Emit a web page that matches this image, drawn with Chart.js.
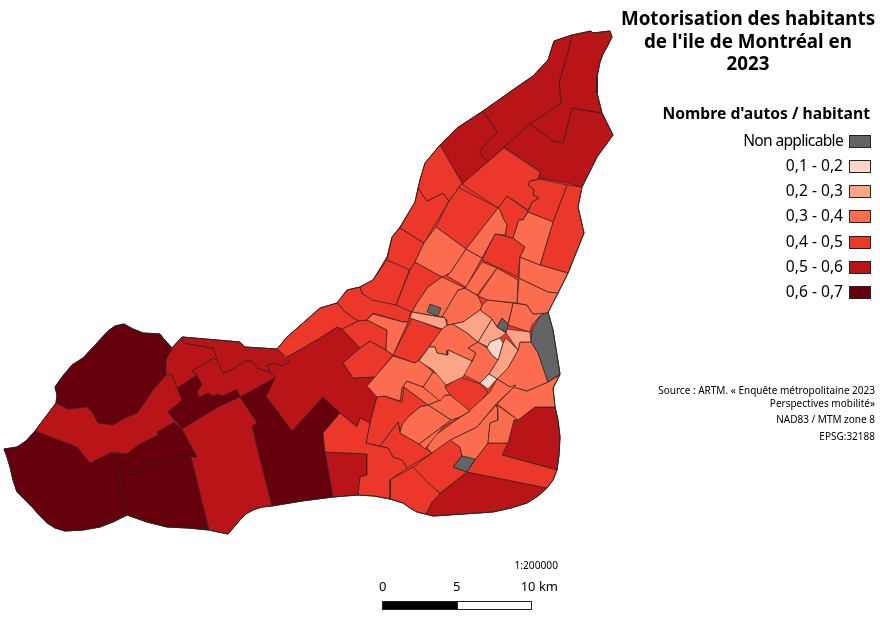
<!DOCTYPE html>
<html lang="fr">
<head>
<meta charset="UTF-8">
<title>Motorisation des habitants de l'ile de Montréal en 2023</title>
<script src="https://cdn.jsdelivr.net/npm/chart.js"></script>
<style>
  html, body { margin: 0; padding: 0; background: #fff; }
  #wrap { position: relative; width: 880px; height: 622px; overflow: hidden; font-family: "Noto Sans", sans-serif; color: #000; }
  canvas { position: absolute; left: 0; top: 0; }
  .t { position: absolute; white-space: nowrap; line-height: 1; }
  #title { left: 610px; width: 276px; top: 7px; text-align: center; font-weight: bold; font-size: 18.8px; line-height: 22.6px; white-space: nowrap; }
  #legendTitle { right: 10px; top: 106px; font-weight: bold; font-size: 15.7px; }
  .sw { position: absolute; left: 849px; width: 20px; height: 11px; border: 1px solid #232323; }
  .lg { right: 37px; font-size: 15.6px; }
  .src { right: 5px; font-size: 10px; }
  #bar0, #bar1 { position: absolute; top: 601px; height: 7px; border: 1px solid #222; }
  #bar0 { left: 382px; width: 74px; background: #000; }
  #bar1 { left: 457px; width: 73px; background: #fff; }
</style>
</head>
<body>
<div id="wrap">
  <canvas id="map" width="880" height="622"></canvas>
  <div class="t" id="title">Motorisation des habitants<br>de l'ile de Montréal en<br>2023</div>
  <div class="t" id="legendTitle">Nombre d'autos / habitant</div>
  <div id="legend"></div>
  <div class="t src" style="top:385px">Source : ARTM. « Enquête métropolitaine 2023</div>
  <div class="t src" style="top:398px">Perspectives mobilité»</div>
  <div class="t src" style="top:414px">NAD83 / MTM zone 8</div>
  <div class="t src" style="top:431px">EPSG:32188</div>
  <div class="t" style="right:322px;top:560px;font-size:10.2px">1:200000</div>
  <div class="t" style="left:379px;top:580px;font-size:13px">0</div>
  <div class="t" style="left:453px;top:580px;font-size:13px">5</div>
  <div class="t" style="right:322px;top:580px;font-size:13px">10 km</div>
  <div id="bar0"></div><div id="bar1"></div>
</div>

<script>
// classes de la légende
const classLabels = ['Non applicable', '0,1 - 0,2', '0,2 - 0,3', '0,3 - 0,4', '0,4 - 0,5', '0,5 - 0,6', '0,6 - 0,7']
const classColors = ['#646464', '#fdd8c8', '#fca486', '#fb6d4e', '#ec382b', '#b91518', '#67000d']

// contour de l'ile
const island = [[554,41],[572,35],[591,31],[593,33],[610,31],[612,37],[607,47],[603,54],[600,62],[597,77],[597,93],[602,113],[613,135],[597,157],[582,187],[578,207],[584,233],[568,273],[558,293],[548,312],[553,330],[560,374],[553,388],[555,407],[558,420],[560,437],[559,455],[557,470],[553,480],[547,488],[538,496],[527,503],[511,508],[493,512],[463,514],[433,516],[417,512],[410,508],[403,503],[390,499],[374,496],[358,495],[345,496],[333,497],[302,501],[272,506],[262,507],[253,510],[246,514],[240,520],[234,527],[228,534],[218,532],[209,530],[188,528],[167,527],[147,522],[127,515],[113,522],[100,527],[83,530],[65,531],[55,528],[47,523],[40,516],[33,508],[24,499],[17,492],[13,480],[10,467],[7,457],[4,449],[11,448],[17,447],[26,441],[35,431],[56,403],[57,395],[55,387],[62,377],[72,365],[83,358],[97,343],[108,331],[115,326],[124,324],[133,329],[143,333],[160,334],[163,338],[172,348],[182,337],[240,342],[245,347],[277,349],[287,337],[303,323],[320,308],[337,303],[347,290],[360,287],[373,280],[387,257],[392,237],[400,227],[415,202],[420,180],[425,163],[440,145],[457,128],[483,111],[517,87],[533,76],[548,60]]

const na = [
  [[430,304],[441,308],[438,316],[427,312]],
  [[502,318],[508,324],[506,332],[497,327]],
  [[548,312],[553,330],[560,374],[548,382],[538,353],[531,342],[532,330],[540,316]],
  [[462,456],[475,459],[467,472],[453,467]]
]
const c12 = [
  [[500,338],[503,343],[498,360],[492,355],[487,348],[490,342]],
  [[489,374],[497,379],[488,389],[480,383]]
]
const c23 = [
  [[412,312],[445,318],[447,325],[442,329],[410,318]],
  [[480,310],[492,319],[478,342],[467,333],[453,324],[463,322]],
  [[429,347],[435,347],[437,353],[447,355],[448,350],[472,361],[463,377],[446,385],[433,370],[419,361]],
  [[507,329],[530,332],[531,342],[520,342],[518,350],[506,333]],
  [[492,319],[478,342],[488,347],[490,342],[500,338],[506,333],[497,327]],
  [[506,338],[518,350],[508,368],[497,379],[489,374],[498,360],[503,343]]
]
const c34 = [
  [[498,208],[500,210],[503,218],[507,225],[505,235],[495,234],[482,258],[466,249]],
  [[528,212],[553,222],[540,265],[520,257],[525,247],[513,238],[519,220],[523,220]],
  [[436,227],[466,249],[450,273],[442,277],[415,262],[424,243]],
  [[466,249],[482,258],[466,287],[447,276],[450,273]],
  [[482,262],[497,268],[477,295],[465,288]],
  [[497,268],[518,280],[517,303],[488,300],[478,296]],
  [[520,257],[540,265],[557,270],[568,273],[558,293],[548,292],[519,278]],
  [[519,278],[548,292],[558,293],[548,313],[533,314],[527,305],[517,303]],
  [[428,287],[442,277],[465,288],[458,290],[442,317],[412,312],[417,303]],
  [[458,290],[465,288],[478,296],[482,305],[480,310],[463,322],[453,324],[447,325],[447,320],[442,316],[450,303]],
  [[482,305],[488,300],[513,303],[508,324],[502,318],[497,327],[492,319],[480,310]],
  [[513,303],[527,305],[533,314],[548,313],[540,316],[532,325],[530,332],[508,325]],
  [[478,342],[487,348],[492,355],[498,360],[489,374],[480,383],[460,373],[472,362],[476,353],[468,348],[475,344]],
  [[447,325],[453,324],[467,333],[478,342],[475,344],[468,348],[476,353],[472,361],[448,350],[447,355],[437,353],[435,347],[429,347],[442,329]],
  [[367,320],[373,314],[403,322],[408,322],[393,355],[386,350],[387,330]],
  [[367,386],[393,356],[415,363],[419,360],[433,372],[423,387],[407,381],[402,388],[400,401],[385,396],[377,397]],
  [[433,372],[423,387],[440,401],[445,395],[450,395],[445,387],[448,380]],
  [[407,381],[423,387],[440,400],[428,405],[404,387],[402,388]],
  [[408,417],[420,407],[428,405],[451,420],[419,444],[400,433],[402,425]],
  [[428,405],[440,400],[445,395],[450,395],[470,411],[460,417],[451,420]],
  [[451,420],[470,411],[443,427],[425,449],[419,444]],
  [[490,392],[497,379],[510,387],[516,385],[496,404],[477,427],[450,440],[432,453],[427,448],[433,437],[452,423],[468,412]],
  [[518,350],[520,342],[531,342],[538,353],[548,382],[527,391],[517,388],[510,387],[497,379],[508,368]],
  [[560,375],[553,388],[555,407],[535,407],[518,420],[497,404],[516,385],[517,388],[527,391],[548,382]],
  [[497,405],[518,420],[514,420],[508,443],[488,443],[490,423],[498,420],[498,410]],
  [[496,405],[498,410],[498,420],[490,423],[488,443],[475,460],[462,456],[460,447],[450,440],[477,427]]
]
const c45 = [
  [[440,145],[462,183],[449,201],[443,193],[427,201],[418,188],[420,180],[425,163]],
  [[418,188],[427,201],[443,193],[449,201],[433,228],[424,243],[400,228],[415,202]],
  [[458,187],[498,208],[466,249],[436,227],[449,201],[462,183]],
  [[463,183],[504,148],[540,172],[538,179],[530,181],[528,185],[534,190],[533,195],[539,198],[532,202],[528,210],[507,196],[498,208],[463,185]],
  [[540,179],[567,185],[553,222],[528,212],[532,202],[539,198],[533,195],[534,190],[528,185],[530,181]],
  [[567,185],[582,187],[578,207],[584,233],[568,273],[557,270],[540,265],[553,222]],
  [[498,208],[507,196],[528,211],[523,220],[519,220],[513,238],[505,236],[507,225],[503,218],[500,210]],
  [[495,234],[505,236],[513,238],[525,247],[520,257],[518,277],[482,260]],
  [[400,228],[424,243],[415,262],[410,270],[387,260],[392,237]],
  [[387,260],[410,268],[396,305],[372,300],[362,293],[360,287],[373,280]],
  [[415,262],[442,277],[428,287],[417,303],[412,312],[396,305],[410,270]],
  [[277,349],[287,337],[303,323],[320,308],[337,303],[345,312],[358,321],[342,329],[337,327],[320,338],[287,357]],
  [[337,303],[347,290],[360,287],[362,294],[397,305],[412,310],[408,322],[403,322],[373,313],[367,320],[358,321],[345,312]],
  [[342,329],[358,321],[367,320],[387,330],[386,350],[370,341],[360,348]],
  [[343,363],[360,348],[370,341],[386,350],[393,355],[375,377],[353,378]],
  [[393,355],[412,318],[442,330],[419,360],[415,363]],
  [[445,387],[460,377],[480,384],[488,392],[472,412],[450,398]],
  [[340,413],[357,427],[360,418],[370,423],[366,443],[378,446],[388,448],[393,457],[402,460],[407,468],[390,480],[390,499],[374,496],[358,495],[360,477],[367,475],[367,454],[325,452],[323,433]],
  [[377,397],[384,396],[398,401],[402,402],[404,387],[428,405],[420,407],[408,417],[400,430],[398,422],[380,446],[366,443],[370,423]],
  [[398,422],[400,433],[419,444],[432,453],[407,468],[402,460],[393,457],[388,448],[380,446]],
  [[432,453],[450,439],[460,447],[462,456],[453,467],[467,472],[440,493],[427,482],[413,467]],
  [[413,467],[427,480],[440,494],[432,502],[426,514],[417,512],[410,508],[403,503],[390,499],[390,480]],
  [[475,460],[488,443],[508,443],[502,455],[557,470],[553,480],[547,488],[467,472]]
]
const c56 = [
  [[439,146],[457,128],[483,111],[497,132],[479,152],[488,162],[463,183]],
  [[483,111],[517,87],[533,76],[548,60],[554,41],[572,35],[568,52],[559,82],[561,103],[530,124],[504,147],[488,162],[479,152],[497,132]],
  [[572,35],[591,31],[593,33],[610,31],[612,37],[607,47],[603,54],[600,62],[597,77],[597,93],[602,113],[572,108],[563,143],[553,141],[530,124],[561,103],[559,82],[568,52]],
  [[602,113],[613,135],[597,157],[582,187],[567,183],[539,178],[540,171],[504,147],[530,124],[553,141],[563,143],[572,108]],
  [[56,403],[68,409],[87,407],[92,412],[98,423],[113,425],[125,418],[137,413],[143,405],[153,390],[166,375],[172,375],[182,400],[168,412],[175,422],[157,432],[158,435],[138,445],[127,454],[112,452],[90,463],[77,447],[35,431]],
  [[182,429],[218,407],[240,397],[257,423],[252,426],[256,443],[272,506],[262,507],[253,510],[246,514],[240,520],[234,527],[228,534],[218,532],[209,530],[191,457],[197,457]],
  [[182,337],[240,342],[245,347],[277,349],[289,362],[282,366],[275,363],[267,365],[270,372],[257,368],[252,361],[245,361],[233,369],[223,373],[218,362],[213,348],[183,343]],
  [[166,360],[172,348],[182,337],[183,343],[213,348],[219,361],[213,358],[192,371],[197,375],[177,388],[172,375],[166,373]],
  [[192,371],[213,358],[219,361],[223,373],[233,369],[245,361],[252,361],[257,368],[270,372],[275,378],[240,397],[237,389],[223,396],[218,394],[213,396],[208,393],[199,397],[197,392],[202,385],[197,375]],
  [[287,357],[320,338],[337,327],[342,329],[360,348],[343,363],[353,378],[375,377],[367,386],[377,396],[370,423],[360,418],[357,427],[340,413],[323,397],[292,431],[275,408],[266,397],[275,378],[270,372],[267,365],[275,363],[282,366],[289,362]],
  [[325,452],[367,454],[367,475],[360,477],[358,495],[345,496],[333,497]],
  [[555,407],[558,420],[560,437],[559,455],[557,470],[502,455],[514,420],[518,420],[535,407]],
  [[467,472],[547,488],[538,496],[527,503],[511,508],[493,512],[463,514],[433,516],[426,514],[432,502],[440,494]]
]
const c67 = [
  [[56,403],[57,395],[55,387],[62,377],[72,365],[83,358],[97,343],[108,331],[115,326],[124,324],[133,329],[143,333],[160,334],[163,338],[172,348],[166,360],[166,375],[153,390],[143,405],[137,413],[125,418],[113,425],[98,423],[92,412],[87,407],[68,409]],
  [[4,449],[11,448],[17,447],[26,441],[35,431],[77,447],[90,463],[112,452],[118,473],[127,515],[113,522],[100,527],[83,530],[65,531],[55,528],[47,523],[40,516],[33,508],[24,499],[17,492],[13,480],[10,467],[7,457]],
  [[112,453],[127,454],[138,445],[158,435],[157,432],[170,417],[182,430],[197,457],[173,457],[158,467],[155,463],[147,463],[137,472],[118,473]],
  [[118,473],[137,472],[147,463],[155,463],[158,467],[173,457],[191,457],[209,530],[188,528],[167,527],[147,522],[127,515]],
  [[168,412],[182,400],[177,388],[197,375],[202,385],[197,392],[199,397],[208,393],[213,396],[218,394],[223,396],[237,389],[240,397],[218,407],[182,429]],
  [[275,378],[266,397],[275,408],[292,431],[323,397],[340,413],[323,433],[325,452],[333,497],[302,501],[272,506],[256,443],[252,426],[257,423],[240,397]]
]
const classPolygons = [na, c12, c23, c34, c45, c56, c67]

function polygon(points, fillColor) {
  const data = points.concat([points[0]]).map(p => ({ x: p[0], y: p[1] }))
  return {
    data: data,
    showLine: true,
    fill: fillColor ? 'shape' : false,
    backgroundColor: fillColor || 'transparent',
    borderColor: '#2a2222',
    borderWidth: 0.7,
    borderJoinStyle: 'round',
    pointRadius: 0,
    tension: 0
  }
}

// Chart.js dessine le premier dataset au-dessus : contour d'abord, fond en dernier
const datasets = [polygon(island, null)]
classPolygons.forEach((list, i) => {
  list.forEach(p => datasets.push(polygon(p, classColors[i])))
})
datasets.push(polygon(island, classColors[4]))

new Chart(document.getElementById('map'), {
  type: 'scatter',
  data: { datasets: datasets },
  options: {
    responsive: false,
    animation: false,
    layout: { padding: 0 },
    plugins: { legend: { display: false }, tooltip: { enabled: false } },
    scales: {
      x: { type: 'linear', min: 0, max: 880, display: false },
      y: { type: 'linear', min: 0, max: 622, reverse: true, display: false }
    }
  }
})

// légende
const legend = document.getElementById('legend')
classLabels.forEach((label, i) => {
  const top = 134.5 + i * 25.2 + (i > 0 ? 0.3 : 0)
  const text = document.createElement('div')
  text.className = 't lg'
  text.style.top = (top - 2) + 'px'
  if (i == 0) text.style.letterSpacing = '-0.7px'
  text.textContent = label
  const sw = document.createElement('div')
  sw.className = 'sw'
  sw.style.top = top + 'px'
  sw.style.background = classColors[i]
  legend.appendChild(text)
  legend.appendChild(sw)
})
</script>
</body>
</html>
